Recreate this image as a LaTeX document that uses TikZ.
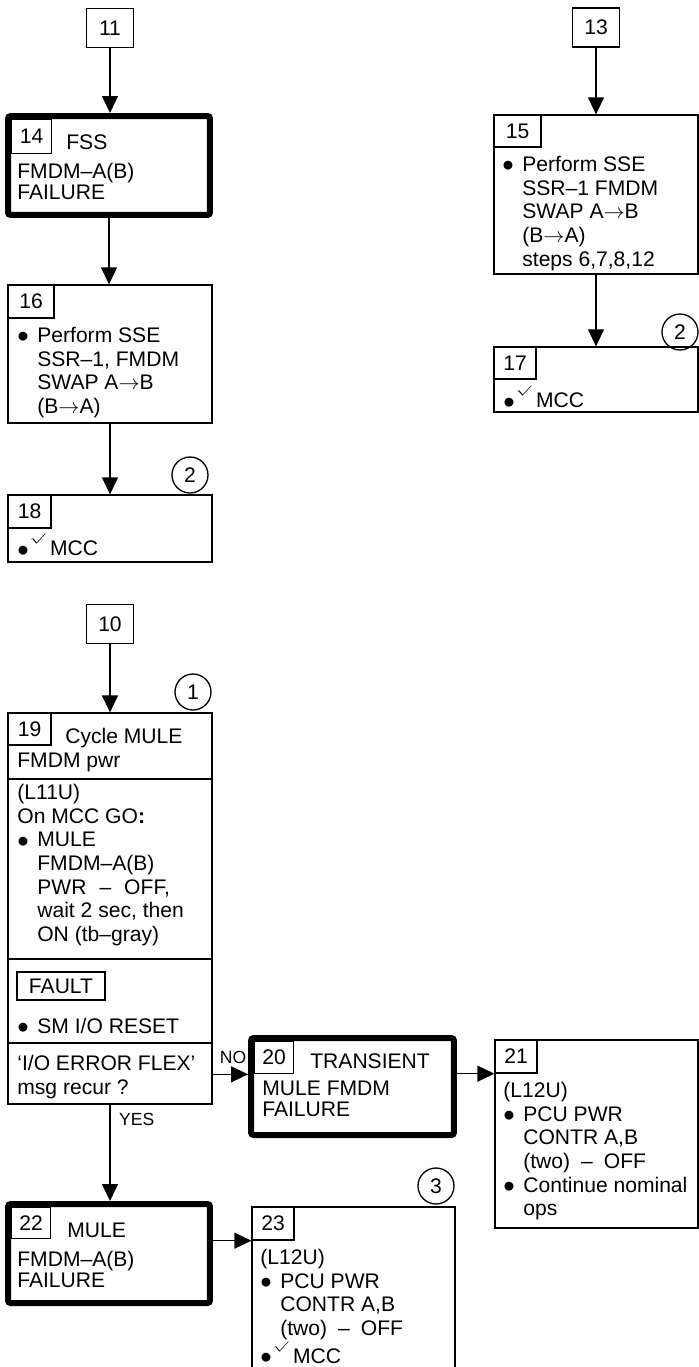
\documentclass[tikz,border=0pt]{standalone}
\usepackage{fontspec}
\setmainfont{Liberation Sans}
\usetikzlibrary{arrows.meta, positioning}

\newcommand{\stepfont}{\fontsize{12}{13.5}\selectfont}
\newcommand{\failfont}{\fontsize{12}{11.95}\selectfont}
\newcommand{\labelfont}{\fontsize{10}{11}\selectfont}
\newcommand{\bul}{\raisebox{-0.48ex}{\scalebox{1.55}{\textbullet}}}
\newcommand{\itm}{\makebox[0.4cm][l]{\bul}}
\newcommand{\ind}{\hspace*{0.4cm}}
\newcommand{\chk}{\raisebox{8.2pt}{\scalebox{1.7}[1.15]{\tiny$\surd$}}}
\newcommand{\mccok}{\bul\chk\hspace{0.1cm}MCC}

\tikzset{
  stepbox/.style={
    rectangle, draw, line width=0.75pt,
    inner sep=0pt, minimum width=4.08cm
  },
  failbox/.style={
    rectangle, draw, line width=0.12cm,
    rounded corners=1.5pt, inner sep=0pt
  },
  tagbox/.style={
    rectangle, draw, line width=0.75pt, anchor=north west,
    inner sep=0pt, minimum width=0.86cm, minimum height=0.66cm,
    font=\stepfont
  },
  refbox/.style={
    rectangle, draw, line width=0.75pt, inner sep=0pt,
    minimum width=0.94cm, minimum height=0.78cm, font=\stepfont
  },
  notecirc/.style={
    circle, draw, line width=0.75pt, inner sep=0pt,
    minimum size=0.72cm, font=\stepfont
  },
  steptext/.style={anchor=north west, align=left, inner sep=0pt, font=\stepfont},
  failtext/.style={steptext, font=\failfont},
  flowlabel/.style={inner sep=0pt, font=\labelfont},
  flowarrow/.style={-{Triangle[length=0.34cm, width=0.32cm]}, line width=0.75pt},
  stepline/.style={line width=0.75pt}
}

\begin{document}
\begin{tikzpicture}[x=0.02cm, y=-0.02cm]
\useasboundingbox (0,0) rectangle (699,1367);

\def\leftX{110}
\def\rightX{596}

%% LEFT COLUMN, TOP
\node[refbox] (box11) at (\leftX,28) {11};
\node[failbox, minimum width=4.04cm, minimum height=1.98cm] (box14) at (109,165.5) {};
\node[tagbox, minimum width=0.8cm, minimum height=0.68cm] (tag14) at ([shift={(0.12cm,-0.12cm)}]box14.north west) {14};
\node[failtext] (txt14) at (17,134.3) {\strut\hspace*{0.98cm}FSS\\[0.12cm]FMDM--A(B)\\FAILURE};

\node[stepbox, minimum height=2.76cm] (box16) at (\leftX,354) {};
\node[tagbox, minimum width=0.92cm] (tag16) at (box16.north west) {16};
\node[steptext] (txt16) at (17,325.4) {\strut\itm Perform SSE\\\ind SSR--1, FMDM\\\ind SWAP A$\rightarrow$B\\\ind (B$\rightarrow$A)};

\node[notecirc] (mark2a) at (190,475) {2};
\node[stepbox, minimum height=1.34cm] (box18) at (\leftX,528.5) {};
\node[tagbox] (tag18) at (box18.north west) {18};
\node[steptext] (txt18) at (17,533.4) {\strut\mccok};

%% RIGHT COLUMN
\node[refbox] (box13) at (\rightX,27.5) {13};
\node[stepbox, minimum height=3.18cm] (box15) at (\rightX,194.5) {};
\node[tagbox, minimum width=0.94cm, minimum height=0.64cm] (tag15) at (box15.north west) {15};
\node[steptext] (txt15) at (502,154.4) {\strut\itm Perform SSE\\\ind SSR--1 FMDM\\\ind SWAP A$\rightarrow$B\\\ind (B$\rightarrow$A)\\\ind steps 6,7,8,12};

\node[notecirc] (mark2b) at (680,332) {2};
\node[stepbox, minimum height=1.3cm] (box17) at (\rightX,379.5) {};
\node[tagbox, minimum width=0.84cm, minimum height=0.64cm] (tag17) at (box17.north west) {17};
\node[steptext] (txt17) at (503,385.4) {\strut\mccok};

%% LOWER PART
\node[refbox] (box10) at (\leftX,624) {10};
\node[notecirc] (mark1) at (193,692) {1};
\node[stepbox, minimum height=7.82cm] (box19) at (\leftX,908.5) {};
\node[tagbox, minimum height=0.64cm] (tag19) at (box19.north west) {19};
\node[steptext] (head19) at (17,726.4) {\strut\hspace*{0.96cm}Cycle MULE\\FMDM pwr};
\node[steptext] (txt19) at (17,782.4) {\strut(L11U)\\On MCC GO\textbf{:}\\\itm MULE\\\ind FMDM--A(B)\\\ind PWR\hspace{0.26cm}--\hspace{0.26cm}OFF,\\\ind wait 2 sec, then\\\ind ON (tb--gray)};
\node[tagbox, anchor=center, minimum width=1.76cm, minimum height=0.56cm] (fault) at (61,986) {FAULT};
\node[steptext] (reset19) at (17,1016.4) {\strut\itm SM I/O RESET};
\node[steptext] (ask19) at (17,1053.4) {\strut‘I/O ERROR FLEX’\\msg recur ?};
\foreach \y in {779,959,1043}
  \draw[stepline] (8,\y) -- (212,\y);

\node[failbox, minimum width=4.06cm, minimum height=1.94cm] (box20) at (352.5,1086.5) {};
\node[tagbox, minimum width=0.78cm, minimum height=0.64cm] (tag20) at ([shift={(0.12cm,-0.12cm)}]box20.north west) {20};
\node[failtext] (txt20) at (262,1053.3) {\strut\hspace*{0.96cm}TRANSIENT\\[0.12cm]MULE FMDM\\FAILURE};

\node[stepbox, minimum width=4.06cm, minimum height=3.76cm] (box21) at (596.5,1134) {};
\node[tagbox, minimum width=0.84cm] (tag21) at (box21.north west) {21};
\node[steptext] (txt21) at (503,1080.4) {\strut(L12U)\\\itm PCU PWR\\\ind CONTR A,B\\\ind (two)\hspace{0.22cm}--\hspace{0.22cm}OFF\\\itm Continue nominal\\\ind ops};

\node[failbox, minimum width=4.04cm, minimum height=1.98cm] (box22) at (109,1253.5) {};
\node[tagbox, minimum width=0.78cm, minimum height=0.62cm] (tag22) at ([shift={(0.12cm,-0.12cm)}]box22.north west) {22};
\node[failtext] (txt22) at (17,1222.3) {\strut\hspace*{1.0cm}MULE\\[0.12cm]FMDM--A(B)\\FAILURE};

\node[notecirc] (mark3) at (436,1186) {3};
\node[stepbox, minimum width=4.06cm, minimum height=3.26cm] (box23) at (353.5,1288.5) {};
\node[tagbox, minimum width=0.84cm] (tag23) at (box23.north west) {23};
\node[steptext] (txt23) at (260,1247.4) {\strut(L12U)\\\itm PCU PWR\\\ind CONTR A,B\\\ind (two)\hspace{0.22cm}--\hspace{0.22cm}OFF\\\mccok};

%% ARROWS
\draw[flowarrow] (box11.south) -- (box11.south |- box14.north);
\draw[flowarrow] (box14.south) -- (box14.south |- box16.north);
\draw[flowarrow] (box16.south) -- (box16.south |- box18.north);
\draw[flowarrow] (box13.south) -- (box13.south |- box15.north);
\draw[flowarrow] (box15.south) -- (box15.south |- box17.north);
\draw[flowarrow] (box10.south) -- (box10.south |- box19.north);

% decision 19
\draw[flowarrow] (box19.east |- tag20.south) -- node[flowlabel, pos=0.58, anchor=base, yshift=0.22cm] {NO} (box20.west |- tag20.south);
\draw[flowarrow] (box19.south) -- node[flowlabel, pos=0.22, anchor=base west, xshift=0.17cm] {YES} (box19.south |- box22.north);

\draw[flowarrow] (box20.east |- tag21.south west) -- (tag21.south west);
\draw[flowarrow] (box22.east |- tag23.south west) -- (tag23.south west);

\end{tikzpicture}
\end{document}
